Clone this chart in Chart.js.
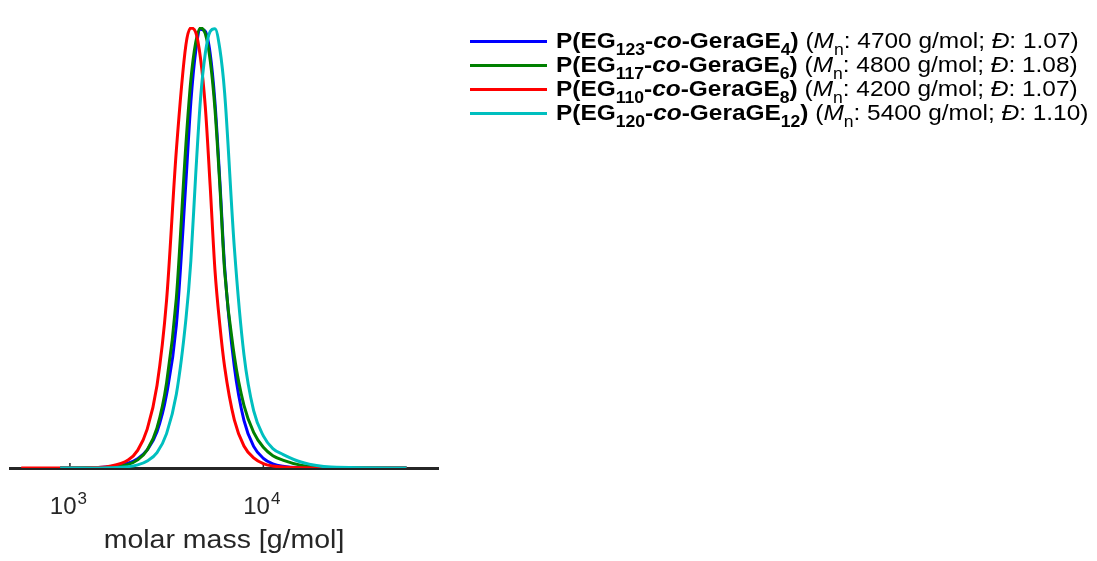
<!DOCTYPE html>
<html>
<head>
<meta charset="utf-8">
<title>Molar mass distribution</title>
<script src="https://cdn.jsdelivr.net/npm/chart.js@4.4.1/dist/chart.umd.min.js"></script>
<style>
  html, body { margin: 0; padding: 0; background: #fff; }
  #wrap { position: relative; width: 1097px; height: 561px; overflow: hidden; }
  #chart { position: absolute; left: 0; top: 0; }
  .legend { position: absolute; left: 0; top: 0; font-family: "Liberation Sans", Arial, Helvetica, sans-serif; font-size: 22px; color: #000; }
  .legend-row { position: absolute; left: 470px; height: 24px; display: flex; align-items: center; white-space: nowrap; }
  .legend-line { display: inline-block; width: 77px; height: 3px; margin-right: 9px; flex: none; }
  .legend-text { display: inline-block; transform: scaleX(1.11); transform-origin: left center; }
  .legend-row sub { font-size: 0.72em; line-height: 0; vertical-align: -0.42em; }
</style>
</head>
<body>
<div id="wrap">
  <canvas id="chart" width="1097" height="561"></canvas>
  <div class="legend" id="legend"></div>
</div>
<script>
// ===== DATA =====
// molar mass sample points [g/mol]
const masses = [560, 890, 1260, 1580, 2000, 2240, 2510, 2820, 3160, 3550, 3980, 4220, 4470, 4730,
  5010, 5310, 5620, 5960, 6310, 7080, 7940, 8910, 10000, 11200, 12600, 15800, 22400, 55000];

// normalised detector signal per sample
const blueValues = [null, 0, 0.0007, 0.0027, 0.011, 0.021, 0.041, 0.082, 0.167, 0.324, 0.650, 0.830, 0.945, 0.995,
  0.990, 0.940, 0.830, 0.650, 0.455, 0.230, 0.108, 0.049, 0.022, 0.0096, 0.0042, 0.0008, 0, 0];
const greenValues = [null, 0, 0.0003, 0.0016, 0.0083, 0.0185, 0.041, 0.091, 0.193, 0.385, 0.735, 0.880, 0.965, 0.998,
  0.985, 0.925, 0.815, 0.640, 0.446, 0.254, 0.142, 0.081, 0.047, 0.028, 0.018, 0.006, 0.0009, 0];
const redValues = [0, 0, 0.0007, 0.0036, 0.018, 0.040, 0.088, 0.187, 0.380, 0.720, 0.960, 0.998, 0.988, 0.930,
  0.820, 0.640, 0.450, 0.324, 0.229, 0.109, 0.050, 0.023, 0.010, 0.0045, 0.002, 0.0004, 0, 0];
const cyanValues = [null, 0, 0.0001, 0.0006, 0.0031, 0.007, 0.016, 0.035, 0.078, 0.167, 0.338, 0.470, 0.665, 0.835,
  0.940, 0.990, 0.996, 0.950, 0.850, 0.500, 0.257, 0.130, 0.073, 0.044, 0.031, 0.013, 0.002, 0];

// legend text parts
const egUnits = ['123', '117', '110', '120'];
const geUnits = ['4', '6', '8', '12'];
const mnValues = ['4700', '4800', '4200', '5400'];
const dispersities = ['1.07', '1.08', '1.07', '1.10'];

// x axis ticks: 10^3, 10^4
const tickValues = [1000, 10000];
const tickBase = '10';
const tickExponents = ['3', '4'];
const xTitle = 'molar mass [g/mol]';

// ===== STYLE =====
const COLORS = ['#0000FF', '#008000', '#FF0000', '#00BFBF'];
const AXIS_COLOR = '#262626';
const FONT = '"Liberation Sans", Arial, Helvetica, sans-serif';

const seriesValues = [blueValues, greenValues, redValues, cyanValues];

const datasets = seriesValues.map((values, i) => ({
  label: `P(EG${egUnits[i]}-co-GeraGE${geUnits[i]})`,
  data: masses.map((m, j) => ({ x: m, y: values[j] })),
  borderColor: COLORS[i],
  backgroundColor: COLORS[i],
  borderWidth: 3,
  pointRadius: 0,
  cubicInterpolationMode: 'monotone',
  spanGaps: false,
  order: seriesValues.length - i, // cyan drawn last, on top
}));

// tick labels with superscript + axis title, drawn from the log scale
const axisLabels = {
  id: 'axisLabels',
  beforeDatasetsDraw(chart) {
    const { ctx, chartArea, scales: { x } } = chart;
    ctx.save();
    ctx.strokeStyle = AXIS_COLOR;
    ctx.lineWidth = 1.5;
    tickValues.forEach((v) => {
      const px = x.getPixelForValue(v);
      ctx.beginPath();
      ctx.moveTo(px, chartArea.bottom);
      ctx.lineTo(px, chartArea.bottom - 5);
      ctx.stroke();
    });
    ctx.restore();
  },
  afterDraw(chart) {
    const { ctx, chartArea, scales: { x } } = chart;
    ctx.save();
    ctx.fillStyle = AXIS_COLOR;
    ctx.textBaseline = 'alphabetic';
    ctx.textAlign = 'left';
    tickValues.forEach((v, i) => {
      const px = x.getPixelForValue(v);
      ctx.font = `24px ${FONT}`;
      const baseW = ctx.measureText(tickBase).width;
      ctx.font = `17px ${FONT}`;
      const expW = ctx.measureText(tickExponents[i]).width;
      const left = px - (baseW + expW) / 2 - 2;
      ctx.font = `24px ${FONT}`;
      ctx.fillText(tickBase, left, 514);
      ctx.font = `17px ${FONT}`;
      ctx.fillText(tickExponents[i], left + baseW + 1, 504);
    });
    // axis title, slightly widened like the source figure
    ctx.font = `25px ${FONT}`;
    ctx.textAlign = 'center';
    ctx.translate((chartArea.left + chartArea.right) / 2, 548);
    ctx.scale(1.14, 1);
    ctx.fillText(xTitle, 0, 0);
    ctx.restore();
  },
};

new Chart(document.getElementById('chart'), {
  type: 'line',
  data: { datasets },
  options: {
    responsive: false,
    animation: false,
    events: [],
    layout: { padding: { left: 10, right: 659, top: 27, bottom: 0 } },
    scales: {
      x: {
        type: 'logarithmic',
        min: 490,
        max: 80000,
        grid: { display: false },
        border: { display: true, color: AXIS_COLOR, width: 3 },
        ticks: { display: false },
        afterFit: (scale) => { scale.height = 93; },
      },
      y: {
        min: 0,
        max: 1,
        display: false,
      },
    },
    plugins: {
      legend: { display: false },
      tooltip: { enabled: false },
    },
  },
  plugins: [axisLabels],
});

// ===== HTML LEGEND =====
const legendEl = document.getElementById('legend');
legendEl.innerHTML = egUnits.map((eg, i) => `
  <div class="legend-row" style="top:${29 + i * 24}px">
    <span class="legend-line" style="background:${COLORS[i]}"></span>
    <span class="legend-text"><b>P(EG<sub>${eg}</sub>-<i>co</i>-GeraGE<sub>${geUnits[i]}</sub>)</b> (<i>M</i><sub>n</sub>: ${mnValues[i]} g/mol; <i>Đ</i>: ${dispersities[i]})</span>
  </div>`).join('');
</script>
</body>
</html>
